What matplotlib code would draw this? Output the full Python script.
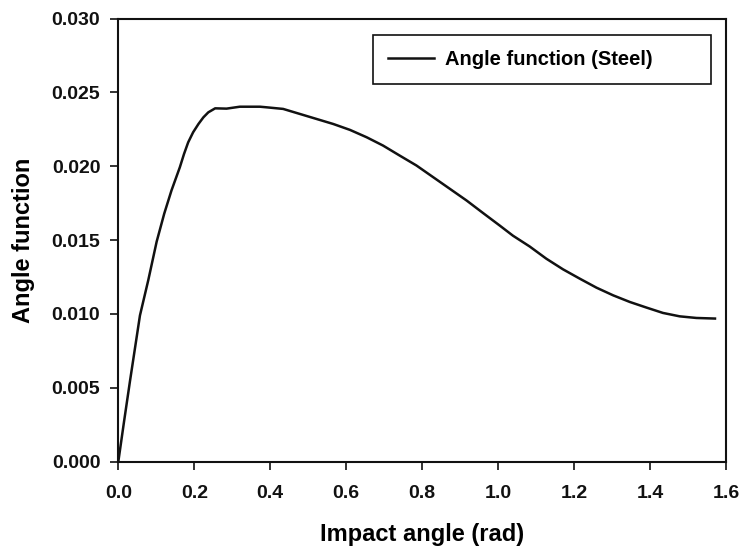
import numpy as np
import matplotlib
matplotlib.use('Agg')
import matplotlib.pyplot as plt
from matplotlib.ticker import FormatStrFormatter

# impact angle (rad) vs angle function
angle = [0, 0.015, 0.031, 0.057, 0.079, 0.101, 0.121, 0.140, 0.162, 0.173,
         0.184, 0.197, 0.211, 0.224, 0.237, 0.255, 0.285, 0.320, 0.373, 0.390,
         0.434, 0.478, 0.522, 0.566, 0.610, 0.654, 0.697, 0.741, 0.785, 0.829,
         0.873, 0.917, 0.961, 1.004, 1.039, 1.083, 1.127, 1.171, 1.215, 1.259,
         1.303, 1.347, 1.391, 1.434, 1.478, 1.522, 1.571]
func = [0, 0.0027, 0.0055, 0.0099, 0.0123, 0.0149, 0.0168, 0.01836, 0.01993, 0.02083,
        0.02162, 0.0223, 0.02286, 0.02331, 0.02365, 0.02392, 0.02390, 0.02403, 0.02403, 0.02399,
        0.02388, 0.02354, 0.0232, 0.02286, 0.02246, 0.02196, 0.0214, 0.02072, 0.02005, 0.01926,
        0.01847, 0.01768, 0.01682, 0.01599, 0.01530, 0.01457, 0.01374, 0.01302, 0.01239, 0.01178,
        0.01126, 0.01081, 0.01043, 0.01007, 0.00984, 0.00973, 0.00969]
label = 'Angle function (Steel)'

plt.rcParams['font.family'] = ['Liberation Sans', 'DejaVu Sans']
plt.rcParams['font.weight'] = 'bold'

fig = plt.figure(figsize=(7.45, 5.56), dpi=100)
ax = fig.add_axes([0.1588, 0.1696, 0.8157, 0.7971])

ax.plot(angle, func, color='#111111', lw=1.8, label=label)

ax.set_xlim(0, 1.6)
ax.set_ylim(0, 0.030)
ax.set_xticks(np.arange(0, 1.61, 0.2))
ax.set_yticks(np.arange(0, 0.0301, 0.005))
ax.xaxis.set_major_formatter(FormatStrFormatter('%.1f'))
ax.yaxis.set_major_formatter(FormatStrFormatter('%.3f'))
ax.tick_params(direction='out', length=6, width=1.2, labelsize=14, colors='#111111')
ax.tick_params(axis='x', pad=11)
ax.tick_params(axis='y', pad=7)
for s in ax.spines.values():
    s.set_linewidth(1.5)
    s.set_color('#111111')

ax.set_xlabel('Impact angle (rad)', fontsize=17, fontweight='bold', labelpad=15)
ax.set_ylabel('Angle function', fontsize=17, fontweight='bold', labelpad=12)

leg = ax.legend(loc='center', bbox_to_anchor=(0.419, 0.848, 0.556, 0.1186), mode='expand',
                fontsize=14.5, fancybox=False, edgecolor='#111111', framealpha=1,
                borderpad=0.75, handlelength=2.3, handletextpad=0.55, borderaxespad=0)
leg.get_frame().set_linewidth(1.2)

fig.savefig('out.png', dpi=100)
